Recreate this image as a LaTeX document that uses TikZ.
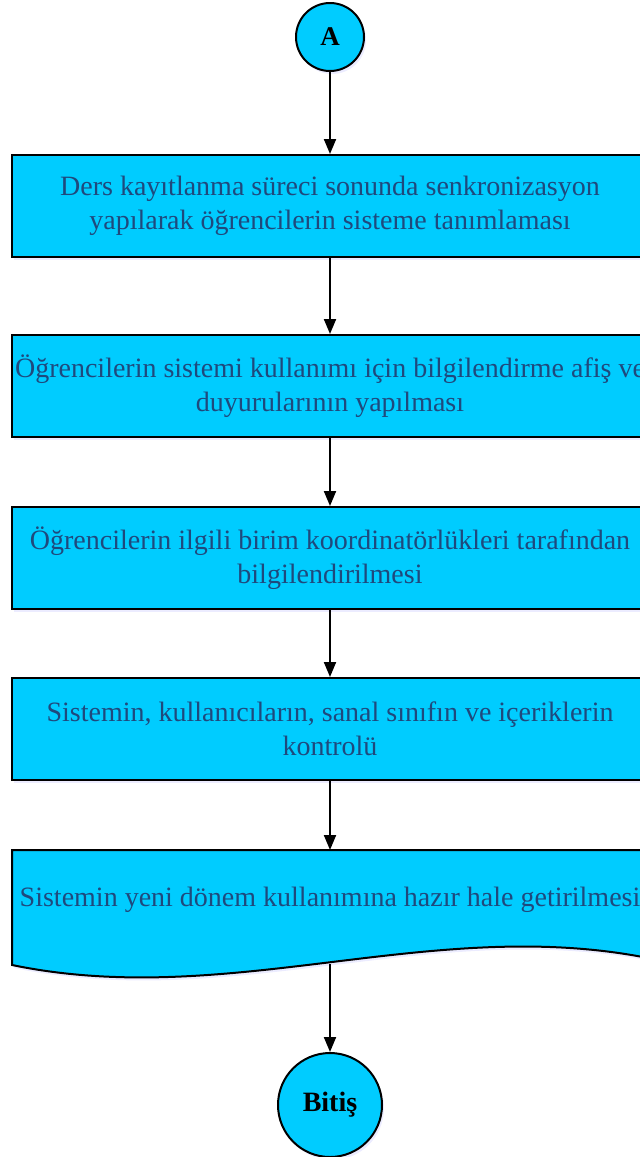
\documentclass[tikz,border=0pt]{standalone}
\usepackage{fontspec}
\setmainfont{Liberation Serif}
\usetikzlibrary{arrows.meta,shadows}
\definecolor{boxfill}{HTML}{00CCFF}
\definecolor{boxtext}{HTML}{1F497D}
\newcommand\ctrline[1]{\makebox[0pt]{#1}}
\tikzset{
  flowbox/.style={draw=black, line width=2pt, fill=boxfill, minimum width=636pt, minimum height=102pt,
    align=center, inner sep=0pt, text=boxtext,
    font=\fontsize{28}{34}\selectfont,
    drop shadow={shadow xshift=2pt, shadow yshift=-3pt, fill=blue!30, opacity=0.25}},
  termcircle/.style={draw=black, line width=2pt, fill=boxfill, circle, inner sep=0pt,
    font=\bfseries\fontsize{27}{30}\selectfont, text=black,
    drop shadow={shadow xshift=2pt, shadow yshift=-3pt, fill=blue!30, opacity=0.25}},
  flowarrow/.style={draw=black, line width=2pt, -{Triangle[length=15pt,width=12pt]}},
  doctext/.style={text=boxtext, font=\fontsize{28}{34}\selectfont, align=center, inner sep=0pt}
}
\begin{document}
\begin{tikzpicture}[x=1pt,y=-1pt]
\useasboundingbox (0,0) rectangle (640,1157);
\node[termcircle, minimum size=68pt] (A) at (330,37) {A};
\node[flowbox] (b1) at (330,206) {\ctrline{Ders kayıtlanma süreci sonunda senkronizasyon}\\\ctrline{yapılarak öğrencilerin sisteme tanımlaması}};
\node[flowbox] (b2) at (330,386) {\ctrline{Öğrencilerin sistemi kullanımı için bilgilendirme afiş ve}\\\ctrline{duyurularının yapılması}};
\node[flowbox] (b3) at (330,558) {\ctrline{Öğrencilerin ilgili birim koordinatörlükleri tarafından}\\\ctrline{bilgilendirilmesi}};
\node[flowbox] (b4) at (330,729) {\ctrline{Sistemin, kullanıcıların, sanal sınıfın ve içeriklerin}\\\ctrline{kontrolü}};
\path[draw=black, line width=2pt, fill=boxfill, line join=miter,
  drop shadow={shadow xshift=2pt, shadow yshift=-3pt, fill=blue!30, opacity=0.25}]
  (12,850) -- (648,850) -- (648,958) .. controls (430,915) and (230,1010) .. (12,965) -- cycle;
\coordinate (dtop) at (330,850);
\coordinate (dbot) at (330,964);
\node[doctext] (d) at (330,900) {\ctrline{Sistemin yeni dönem kullanımına hazır hale getirilmesi}};
\node[termcircle, minimum size=104pt, font=\bfseries\fontsize{28}{32}\selectfont] (E) at (330,1105) {Bitiş};
\draw[flowarrow] (A.south) -- (b1.north);
\draw[flowarrow] (b1.south) -- (b2.north);
\draw[flowarrow] (b2.south) -- (b3.north);
\draw[flowarrow] (b3.south) -- (b4.north);
\draw[flowarrow] (b4.south) -- (dtop);
\draw[flowarrow] (dbot) -- (E.north);
\end{tikzpicture}
\end{document}
